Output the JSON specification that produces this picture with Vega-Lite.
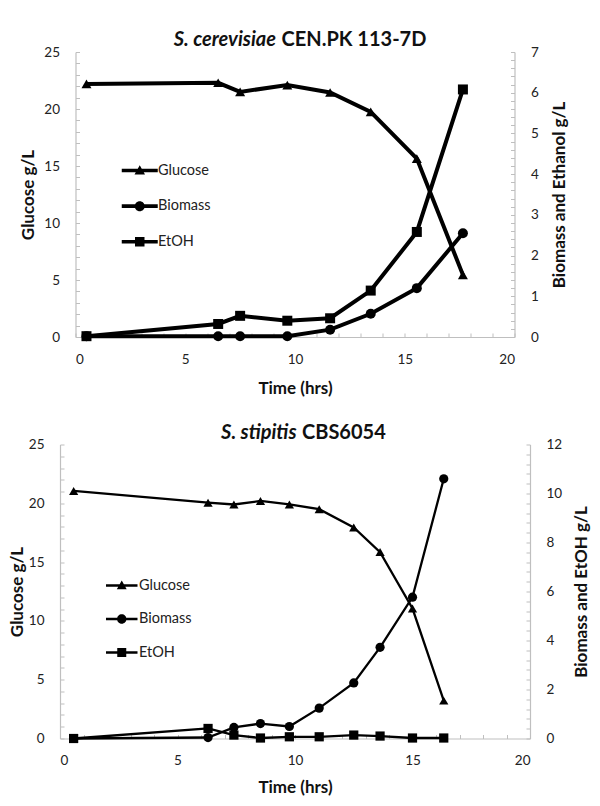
{
  "$schema": "https://vega.github.io/schema/vega-lite/v6.json",
  "background": "white",
  "padding": {"left": 8, "top": 29, "right": 5, "bottom": 5},
  "config": {
    "font": "Lato",
    "view": {"stroke": null},
    "axis": {
      "domainColor": "#bfbfbf", "domainWidth": 1.2, "tickColor": "#bfbfbf", "tickWidth": 1,
      "tickSize": -4, "labelPadding": 20, "labelColor": "#222", "labelFontSize": 13.5, "labelOverlap": false,
      "titleFontSize": 17, "titleFontWeight": "bold", "titleColor": "#111", "grid": false,
      "titleAlign": "center", "titleBaseline": "middle"
    },
    "legend": {"symbolOpacity": 1, "symbolFillColor": "black", "labelColor": "#222", "labelFontSize": 14.5, "padding": 0},
    "title": {"fontSize": 20, "fontWeight": "bold", "color": "#111"}
  },
  "datasets": {
    "cer": [
      {"t": 0.5, "series": "Glucose", "v": 22.2},
      {"t": 6.5, "series": "Glucose", "v": 22.3},
      {"t": 7.5, "series": "Glucose", "v": 21.5},
      {"t": 9.65, "series": "Glucose", "v": 22.1},
      {"t": 11.6, "series": "Glucose", "v": 21.45},
      {"t": 13.45, "series": "Glucose", "v": 19.75},
      {"t": 15.55, "series": "Glucose", "v": 15.65},
      {"t": 17.65, "series": "Glucose", "v": 5.45},
      {"t": 0.5, "series": "Biomass", "v": 0.02},
      {"t": 6.5, "series": "Biomass", "v": 0.02},
      {"t": 7.5, "series": "Biomass", "v": 0.02},
      {"t": 9.65, "series": "Biomass", "v": 0.02},
      {"t": 11.6, "series": "Biomass", "v": 0.18},
      {"t": 13.45, "series": "Biomass", "v": 0.57},
      {"t": 15.55, "series": "Biomass", "v": 1.2},
      {"t": 17.65, "series": "Biomass", "v": 2.55},
      {"t": 0.5, "series": "EtOH", "v": 0.02},
      {"t": 6.5, "series": "EtOH", "v": 0.32},
      {"t": 7.5, "series": "EtOH", "v": 0.52},
      {"t": 9.65, "series": "EtOH", "v": 0.4},
      {"t": 11.6, "series": "EtOH", "v": 0.46},
      {"t": 13.45, "series": "EtOH", "v": 1.14},
      {"t": 15.55, "series": "EtOH", "v": 2.58},
      {"t": 17.65, "series": "EtOH", "v": 6.08}
    ],
    "sti": [
      {"t": 0.58, "series": "Glucose", "v": 21.05},
      {"t": 6.3, "series": "Glucose", "v": 20.05},
      {"t": 7.4, "series": "Glucose", "v": 19.9},
      {"t": 8.53, "series": "Glucose", "v": 20.2},
      {"t": 9.76, "series": "Glucose", "v": 19.9},
      {"t": 11.03, "series": "Glucose", "v": 19.5},
      {"t": 12.5, "series": "Glucose", "v": 17.95},
      {"t": 13.62, "series": "Glucose", "v": 15.85},
      {"t": 15.0, "series": "Glucose", "v": 11.05},
      {"t": 16.33, "series": "Glucose", "v": 3.22},
      {"t": 0.58, "series": "Biomass", "v": 0.0},
      {"t": 6.3, "series": "Biomass", "v": 0.04},
      {"t": 7.4, "series": "Biomass", "v": 0.45},
      {"t": 8.53, "series": "Biomass", "v": 0.61},
      {"t": 9.76, "series": "Biomass", "v": 0.49},
      {"t": 11.03, "series": "Biomass", "v": 1.24},
      {"t": 12.5, "series": "Biomass", "v": 2.27},
      {"t": 13.62, "series": "Biomass", "v": 3.72},
      {"t": 15.0, "series": "Biomass", "v": 5.77},
      {"t": 16.33, "series": "Biomass", "v": 10.6},
      {"t": 0.58, "series": "EtOH", "v": 0.0},
      {"t": 6.3, "series": "EtOH", "v": 0.41},
      {"t": 7.4, "series": "EtOH", "v": 0.14},
      {"t": 8.53, "series": "EtOH", "v": 0.02},
      {"t": 9.76, "series": "EtOH", "v": 0.07},
      {"t": 11.03, "series": "EtOH", "v": 0.07},
      {"t": 12.5, "series": "EtOH", "v": 0.14},
      {"t": 13.62, "series": "EtOH", "v": 0.1},
      {"t": 15.0, "series": "EtOH", "v": 0.02},
      {"t": 16.33, "series": "EtOH", "v": 0.02}
    ]
  },
  "bounds": "flush",
  "center": true,
  "spacing": 107.5,
  "resolve": {"scale": {"shape": "independent"}, "legend": {"shape": "independent"}},
  "vconcat": [
    {
      "width": 439,
      "height": 285,
      "data": {"name": "cer"},
      "title": {"text": "S. cerevisiae", "fontStyle": "italic", "anchor": "start", "frame": "group", "align": "right", "dx": 200.5, "dy": 24},
      "resolve": {"scale": {"y": "independent", "shape": "independent"}, "axis": {"x": "independent"}, "legend": {"shape": "independent"}},
      "layer": [
        {
          "transform": [{"filter": "datum.series === 'Glucose'"}],
          "encoding": {
            "x": {"field": "t", "type": "quantitative", "scale": {"domain": [0, 20], "nice": false},
              "axis": {"orient": "bottom", "title": "Time (hrs)", "titleY": 51,
                "values": [0,1,2,3,4,5,6,7,8,9,10,11,12,13,14,15,16,17,18,19,20],
                "labelExpr": "datum.value % 5 === 0 ? datum.label : ''", "labelPadding": 19}},
            "y": {"field": "v", "type": "quantitative", "scale": {"domain": [0, 25], "nice": false},
              "axis": {"orient": "left", "title": "Glucose g/L", "titleX": -47, "titleY": 142.5, "titleAngle": -90,
                "values": [0,1,2,3,4,5,6,7,8,9,10,11,12,13,14,15,16,17,18,19,20,21,22,23,24,25],
                "labelExpr": "datum.value % 5 === 0 ? datum.label : ''"}}
          },
          "layer": [
            {"mark": {"type": "line", "color": "black", "strokeWidth": 4}},
            {"mark": {"type": "point", "filled": true, "color": "black", "opacity": 1, "size": 100},
              "encoding": {
                "shape": {"field": "series", "type": "nominal",
                  "scale": {"domain": ["Glucose", "Biomass", "EtOH"], "range": ["triangle-up", "circle", "square"]},
                  "legend": null}}}
          ]
        },
        {
          "transform": [{"filter": "datum.series !== 'Glucose'"}],
          "encoding": {
            "x": {"field": "t", "type": "quantitative",
              "axis": {"orient": "top", "domain": false, "ticks": false, "labels": false,
                "title": "CEN.PK 113-7D", "titleFontSize": 20, "titleAlign": "left", "titleX": 205.5, "titleY": -12.5}},
            "y": {"field": "v", "type": "quantitative", "scale": {"domain": [0, 7], "nice": false},
              "axis": {"orient": "right", "title": "Biomass and Ethanol g/L", "titleX": 45, "titleY": 142.5, "titleAngle": -90,
                "values": [0,0.2,0.4,0.6,0.8,1,1.2,1.4,1.6,1.8,2,2.2,2.4,2.6,2.8,3,3.2,3.4,3.6,3.8,4,4.2,4.4,4.6,4.8,5,5.2,5.4,5.6,5.8,6,6.2,6.4,6.6,6.8,7],
                "labelExpr": "abs(datum.value - round(datum.value)) < 0.001 ? format(datum.value, 'd') : ''"}}
          },
          "layer": [
            {"mark": {"type": "line", "color": "black", "strokeWidth": 4}, "encoding": {"detail": {"field": "series"}}},
            {"mark": {"type": "point", "filled": true, "color": "black", "opacity": 1, "size": 100},
              "encoding": {"shape": {"field": "series", "type": "nominal",
                "scale": {"domain": ["Glucose", "Biomass", "EtOH"], "range": ["triangle-up", "circle", "square"]},
                "legend": null}}}
          ]
        },
        {
          "mark": {"type": "point", "filled": true, "color": "black", "opacity": 0},
          "encoding": {
            "x": {"field": "t", "type": "quantitative", "axis": null},
            "y": {"field": "v", "type": "quantitative", "axis": null, "scale": {"domain": [0, 25]}},
            "shape": {"field": "series", "type": "nominal",
              "scale": {"domain": ["Glucose", "Biomass", "EtOH"],
                "range": [
                  "M-3.6,-0.36H3.6V0.36H-3.6ZM0,-1.05L1.05,0.8H-1.05Z",
                  "M-3.6,-0.36H3.6V0.36H-3.6ZM1,0A1,1,0,1,1,-1,0A1,1,0,1,1,1,0Z",
                  "M-3.6,-0.36H3.6V0.36H-3.6ZM-0.95,-0.95H0.95V0.95H-0.95Z"]},
              "legend": {"orient": "none", "legendX": 57, "legendY": 111.3, "title": null,
                "symbolSize": 100, "symbolStrokeWidth": 0, "symbolFillColor": "black",
                "labelOffset": 11, "rowPadding": 20.6}}
          }
        }
      ]
    },
    {
      "width": 470,
      "height": 294,
      "data": {"name": "sti"},
      "title": {"text": "S. stipitis", "fontStyle": "italic", "anchor": "start", "frame": "group", "align": "right", "dx": 236.5, "dy": 24},
      "resolve": {"scale": {"y": "independent", "shape": "independent"}, "axis": {"x": "independent"}, "legend": {"shape": "independent"}},
      "layer": [
        {
          "transform": [{"filter": "datum.series === 'Glucose'"}],
          "encoding": {
            "x": {"field": "t", "type": "quantitative", "scale": {"domain": [0, 20], "nice": false},
              "axis": {"orient": "bottom", "title": "Time (hrs)", "titleY": 49,
                "values": [0,1,2,3,4,5,6,7,8,9,10,11,12,13,14,15,16,17,18,19,20],
                "labelExpr": "datum.value % 5 === 0 ? datum.label : ''", "labelPadding": 19}},
            "y": {"field": "v", "type": "quantitative", "scale": {"domain": [0, 25], "nice": false},
              "axis": {"orient": "left", "title": "Glucose g/L", "titleX": -42.6, "titleY": 147, "titleAngle": -90,
                "values": [0,1,2,3,4,5,6,7,8,9,10,11,12,13,14,15,16,17,18,19,20,21,22,23,24,25],
                "labelExpr": "datum.value % 5 === 0 ? datum.label : ''"}}
          },
          "layer": [
            {"mark": {"type": "line", "color": "black", "strokeWidth": 2.3}},
            {"mark": {"type": "point", "filled": true, "color": "black", "opacity": 1, "size": 85},
              "encoding": {
                "shape": {"field": "series", "type": "nominal",
                  "scale": {"domain": ["Glucose", "Biomass", "EtOH"], "range": ["triangle-up", "circle", "square"]},
                  "legend": null}}}
          ]
        },
        {
          "transform": [{"filter": "datum.series !== 'Glucose'"}],
          "encoding": {
            "x": {"field": "t", "type": "quantitative",
              "axis": {"orient": "top", "domain": false, "ticks": false, "labels": false,
                "title": "CBS6054", "titleFontSize": 20, "titleAlign": "left", "titleX": 241.5, "titleY": -11.6}},
            "y": {"field": "v", "type": "quantitative", "scale": {"domain": [0, 12], "nice": false},
              "axis": {"orient": "right", "title": "Biomass and EtOH g/L", "titleX": 51, "titleY": 147, "titleAngle": -90,
                "values": [0,0.4,0.8,1.2,1.6,2,2.4,2.8,3.2,3.6,4,4.4,4.8,5.2,5.6,6,6.4,6.8,7.2,7.6,8,8.4,8.8,9.2,9.6,10,10.4,10.8,11.2,11.6,12],
                "labelExpr": "abs(datum.value/2 - round(datum.value/2)) < 0.001 ? format(datum.value, 'd') : ''"}}
          },
          "layer": [
            {"mark": {"type": "line", "color": "black", "strokeWidth": 2.3}, "encoding": {"detail": {"field": "series"}}},
            {"mark": {"type": "point", "filled": true, "color": "black", "opacity": 1, "size": 85},
              "encoding": {"shape": {"field": "series", "type": "nominal",
                "scale": {"domain": ["Glucose", "Biomass", "EtOH"], "range": ["triangle-up", "circle", "square"]},
                "legend": null}}}
          ]
        },
        {
          "mark": {"type": "point", "filled": true, "color": "black", "opacity": 0},
          "encoding": {
            "x": {"field": "t", "type": "quantitative", "axis": null},
            "y": {"field": "v", "type": "quantitative", "axis": null, "scale": {"domain": [0, 25]}},
            "shape": {"field": "series", "type": "nominal",
              "scale": {"domain": ["Glucose", "Biomass", "EtOH"],
                "range": [
                  "M-3.5,-0.28H3.5V0.28H-3.5ZM0,-1.1L1.1,0.85H-1.1Z",
                  "M-3.5,-0.28H3.5V0.28H-3.5ZM1.05,0A1.05,1.05,0,1,1,-1.05,0A1.05,1.05,0,1,1,1.05,0Z",
                  "M-3.5,-0.28H3.5V0.28H-3.5ZM-1,-1H1V1H-1Z"]},
              "legend": {"orient": "none", "legendX": 54.5, "legendY": 133.8, "title": null,
                "symbolSize": 81, "symbolStrokeWidth": 0, "symbolFillColor": "black",
                "labelOffset": 10, "rowPadding": 18.5}}
          }
        }
      ]
    }
  ]
}
